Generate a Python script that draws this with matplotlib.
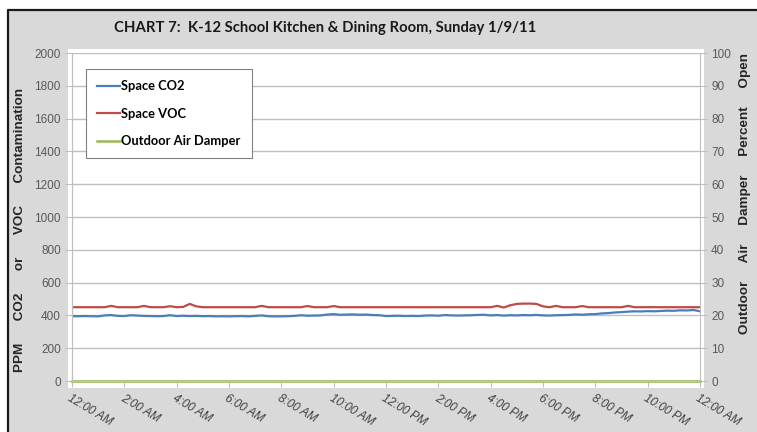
import matplotlib
matplotlib.use("Agg")
import matplotlib.pyplot as plt
from matplotlib.patches import Rectangle
from matplotlib.lines import Line2D

# readings every 15 minutes, midnight to midnight
hours = [i * 0.25 for i in range(97)]

co2 = [395, 395, 396, 395,
       394, 400, 402, 397,
       396, 401, 399, 397,
       396, 395, 396, 401,
       396, 398, 396, 397,
       395, 396, 394, 395,
       394, 395, 396, 394,
       397, 400, 395, 394,
       394, 395, 397, 401,
       398, 399, 400, 405,
       408, 404, 405, 406,
       404, 405, 402, 401,
       396, 397, 398, 396,
       397, 396, 399, 400,
       398, 402, 400, 399,
       400, 401, 403, 404,
       400, 402, 399, 401,
       400, 402, 401, 403,
       400, 399, 401, 402,
       403, 406, 404, 407,
       408, 412, 414, 418,
       420, 423, 425, 424,
       426, 425, 427, 429,
       428, 431, 430, 433,
       425]

voc = [450, 450, 450, 450,
       450, 450, 458, 450,
       450, 450, 450, 458,
       450, 450, 450, 456,
       450, 452, 470, 455,
       450, 450, 450, 450,
       450, 450, 450, 450,
       450, 458, 450, 450,
       450, 450, 450, 450,
       457, 450, 450, 450,
       457, 450, 450, 450,
       450, 450, 450, 450,
       450, 450, 450, 450,
       450, 450, 450, 450,
       450, 450, 450, 450,
       450, 450, 450, 450,
       450, 458, 448, 462,
       470, 472, 472, 470,
       455, 450, 458, 450,
       450, 450, 457, 450,
       450, 450, 450, 450,
       450, 458, 450, 450,
       450, 450, 450, 450,
       450, 450, 450, 450,
       450]

damper_hours = [0, 24]
damper_pct = [0, 0]

tick_hours = [0, 2, 4, 6, 8, 10, 12, 14, 16, 18, 20, 22, 24]
tick_labels = ["12:00 AM", "2:00 AM", "4:00 AM", "6:00 AM", "8:00 AM",
               "10:00 AM", "12:00 PM", "2:00 PM", "4:00 PM", "6:00 PM",
               "8:00 PM", "10:00 PM", "12:00 AM"]

W, H = 757, 432
plt.rcParams['font.family'] = ['Liberation Sans', 'DejaVu Sans']

fig = plt.figure(figsize=(W / 100, H / 100), dpi=100)
fig.patch.set_facecolor('white')

def fx(px):
    return px / W

def fy(py):
    return 1 - py / H

# grey chart background with dark frame on top/left
fig.add_artist(Rectangle((fx(8), 0), 1, fy(10), transform=fig.transFigure,
                         facecolor='#d9d9d9', edgecolor='none', zorder=-3))
fig.add_artist(Line2D([fx(8), fx(8), 1], [0, fy(10), fy(10)],
                      transform=fig.transFigure, color='#1a1a1a', lw=1.6, zorder=-2))
# white plot area
fig.add_artist(Rectangle((fx(68), fy(388)), fx(704) - fx(68), fy(49) - fy(388),
                         transform=fig.transFigure, facecolor='white',
                         edgecolor='none', zorder=-1))

ax = fig.add_axes([fx(72), fy(381), fx(700) - fx(72), fy(53) - fy(381)])
ax.set_facecolor('none')
ax2 = ax.twinx()

grid_c = '#bfbfbf'
ax.set_xlim(0, 24)
ax.set_ylim(0, 2000)
ax.set_yticks(range(0, 2001, 200))
ax.yaxis.grid(True, color=grid_c, lw=1)
ax.set_axisbelow(True)
ax2.set_ylim(0, 100)
ax2.set_yticks(range(0, 101, 10))

l1, = ax.plot(hours, co2, color='#4a7ebb', lw=1.6, label='Space CO2')
l2, = ax.plot(hours, voc, color='#be4b48', lw=1.6, label='Space VOC')
l3, = ax2.plot(damper_hours, damper_pct, color='#98b954', lw=1.8,
               clip_on=False, label='Outdoor Air Damper')

for a in (ax, ax2):
    a.spines['top'].set_visible(False)
    for s in ('left', 'right', 'bottom'):
        a.spines[s].set_color(grid_c)
ax.spines['right'].set_visible(False)

ax.set_xticks(tick_hours)
ax.set_xticklabels(tick_labels, rotation=-31, ha='left', va='top',
                   rotation_mode='anchor', fontstyle='italic',
                   fontsize=8.5, color='#404040')
ax.tick_params(axis='x', length=4, color=grid_c, pad=4)
ax.tick_params(axis='y', length=5, color=grid_c, labelsize=8.5,
               labelcolor='#595959', pad=3)
ax2.tick_params(axis='y', length=5, color=grid_c, labelsize=8.5,
                labelcolor='#595959', pad=3)

leg = ax.legend(handles=[l1, l2, l3], loc='upper left',
                bbox_to_anchor=(0.022, 0.951), borderaxespad=0,
                frameon=True, fancybox=False, framealpha=1,
                edgecolor='#808080', handlelength=1.8, handletextpad=0.1,
                labelspacing=1.2, borderpad=0.85,
                prop={'family': 'Lato', 'weight': 'bold', 'size': 9.3})
leg.get_frame().set_linewidth(0.8)

fig.text(fx(325), fy(28), "CHART 7:  K-12 School Kitchen & Dining Room, Sunday 1/9/11",
         ha='center', va='center', family='Lato', fontweight='bold',
         fontsize=10.7, color='#1a1a1a')
fig.text(fx(20), fy(230), "      ".join(["PPM", "CO2", "or", "VOC", "Contamination"]),
         rotation=90, ha='center', va='center', fontweight='bold',
         fontsize=9.7, color='#262626')
fig.text(fx(745), fy(193), "     ".join(["Outdoor", "Air", "Damper", "Percent", "Open"]),
         rotation=90, ha='center', va='center', fontweight='bold',
         fontsize=9.7, color='#262626')

fig.savefig('out.png', dpi=100)
